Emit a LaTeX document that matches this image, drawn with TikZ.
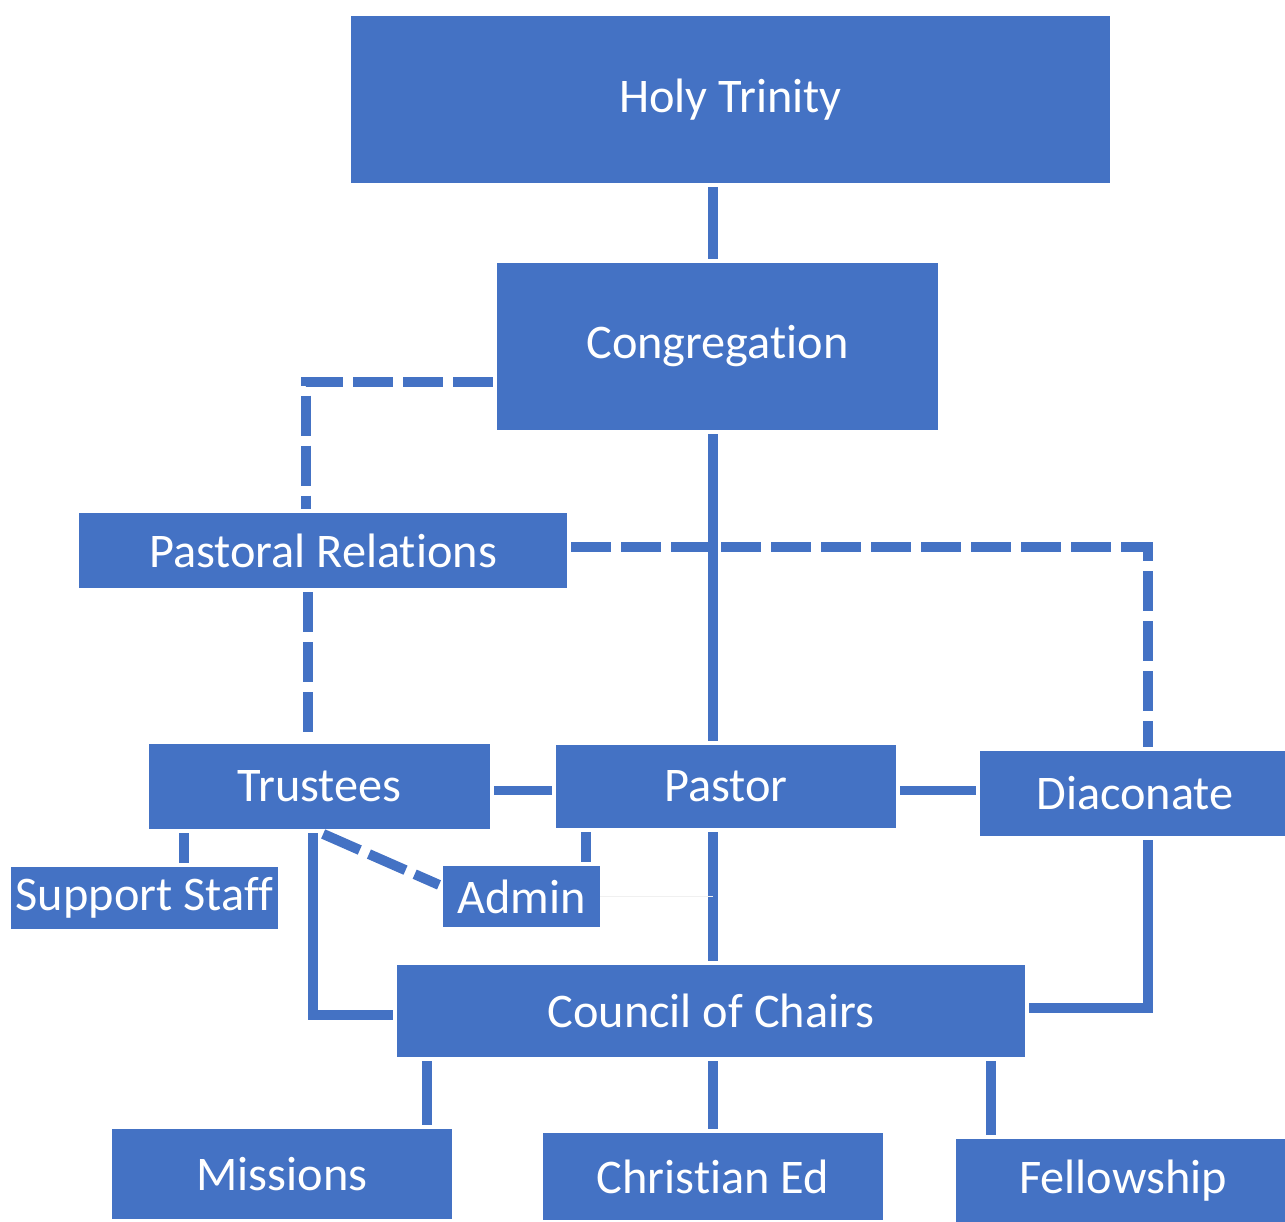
\documentclass[tikz,border=0pt]{standalone}
\usepackage{fontspec}
\setmainfont{Carlito}[Ligatures={NoCommon,NoContextual}]
\usepackage{tikz}
\usetikzlibrary{calc,positioning}
\definecolor{officeblue}{HTML}{4472C4}

\begin{document}
\begin{tikzpicture}[x=0.02cm, y=-0.02cm, link/.style={draw=officeblue, line width=0.2cm, shorten >=0.08cm, shorten <=0.08cm}, dashlink/.style={link, dash pattern=on 0.8cm off 0.2cm}]
% Define styles for the boxes
\tikzstyle{block} = [rectangle, fill=officeblue, text=white, inner sep=0pt, font=\fontsize{27.5}{33}\selectfont]

\useasboundingbox (0,0) rectangle (1285,1222);
\coordinate (spine) at (713,0);

% Boxes
\node [block, minimum width=15.18cm, minimum height=3.34cm] (holy) at (730.5,99.5) {Holy Trinity};
\node [block, minimum width=8.82cm, minimum height=3.34cm] (cong) at (717.5,346.5) {Congregat\kern0pt ion};
\node [block, minimum width=9.76cm, minimum height=1.5cm] (pastrel) at (323,550.5) {Pastoral Relat\kern0pt ions};
\node [block, minimum width=6.82cm, minimum height=1.7cm] (trust) at (319.5,786.5) {Trustees};
\node [block, minimum width=6.8cm, minimum height=1.66cm] (pastor) at (726,786.5) {Pastor};
\node [block, minimum width=6.1cm, minimum height=1.7cm] (diac) at (1132.5,793.5) {\hspace{0.1cm}Diaconate};
\node [block, minimum width=5.34cm, minimum height=1.24cm] (support) at (144.5,898) {Support Staff};
\node [block, minimum width=3.14cm, minimum height=1.22cm] (admin) at (521.5,896.5) {Admin};
\node [block, minimum width=12.56cm, minimum height=1.84cm] (council) at (711,1011) {Council of Chairs};
\node [block, minimum width=6.8cm, minimum height=1.8cm] (missions) at (282,1174) {Missions};
\node [block, minimum width=6.8cm, minimum height=1.74cm] (christ) at (713,1176.5) {Christ\kern0pt ian Ed};
\node [block, minimum width=6.58cm, minimum height=1.66cm] (fellow) at (1120.5,1180.5) {\raisebox{-0.06cm}{\hspace{0.1cm}Fellowship}};

% Main line down the middle
\draw[link] (holy.south -| spine) -- (cong.north -| spine);
\draw[link] (cong.south -| spine) -- (pastor.north -| spine);
\draw[link] (pastor.south -| spine) -- (council.north -| spine);
\draw[link] (council.south -| spine) -- (christ.north -| spine);

% Dashed links of Pastoral Relations
\draw[dashlink] ($(cong.south west)+(0,-48)$) -| ($(pastrel.north)+(-17,0)$);
\draw[dashlink] ($(pastrel.south)+(-15,0)$) coordinate (pr1) -- (pr1 |- trust.north);
\draw[dashlink] ($(pastrel.east)+(0,-3)$) -| ($(diac.north)+(15,0)$);

% Side links at Pastor level
\draw[link] ($(trust.east)+(0,4)$) coordinate (t2) -- (t2 -| pastor.west);
\draw[link] ($(pastor.east)+(0,4)$) coordinate (p2) -- (p2 -| diac.west);

% Trustees and Admin
\draw[link] ($(trust.south west)+(35,0)$) coordinate (t1) -- (t1 |- support.north);
\draw[dashlink] ($(trust.south)+(0,3)$) -- ($(admin.west)+(0,-10)$);
\draw[link] ($(admin.north east)+(-14,0)$) coordinate (a1) -- (a1 |- pastor.south);
\draw[draw=black!6, line width=0.5pt] (admin.east) -- (admin.east -| spine);

% Into Council of Chairs
\draw[link] ($(trust.south)+(-7,0)$) |- ($(council.west)+(0,4)$);
\draw[link] ($(diac.south)+(15,0)$) |- ($(council.east)+(0,-3)$);

% Committees under Council
\draw[link] ($(council.south west)+(30,0)$) coordinate (c1) -- (c1 |- missions.north);
\draw[link] ($(council.south east)+(-34,0)$) coordinate (c2) -- (c2 |- fellow.north);

\end{tikzpicture}
\end{document}
